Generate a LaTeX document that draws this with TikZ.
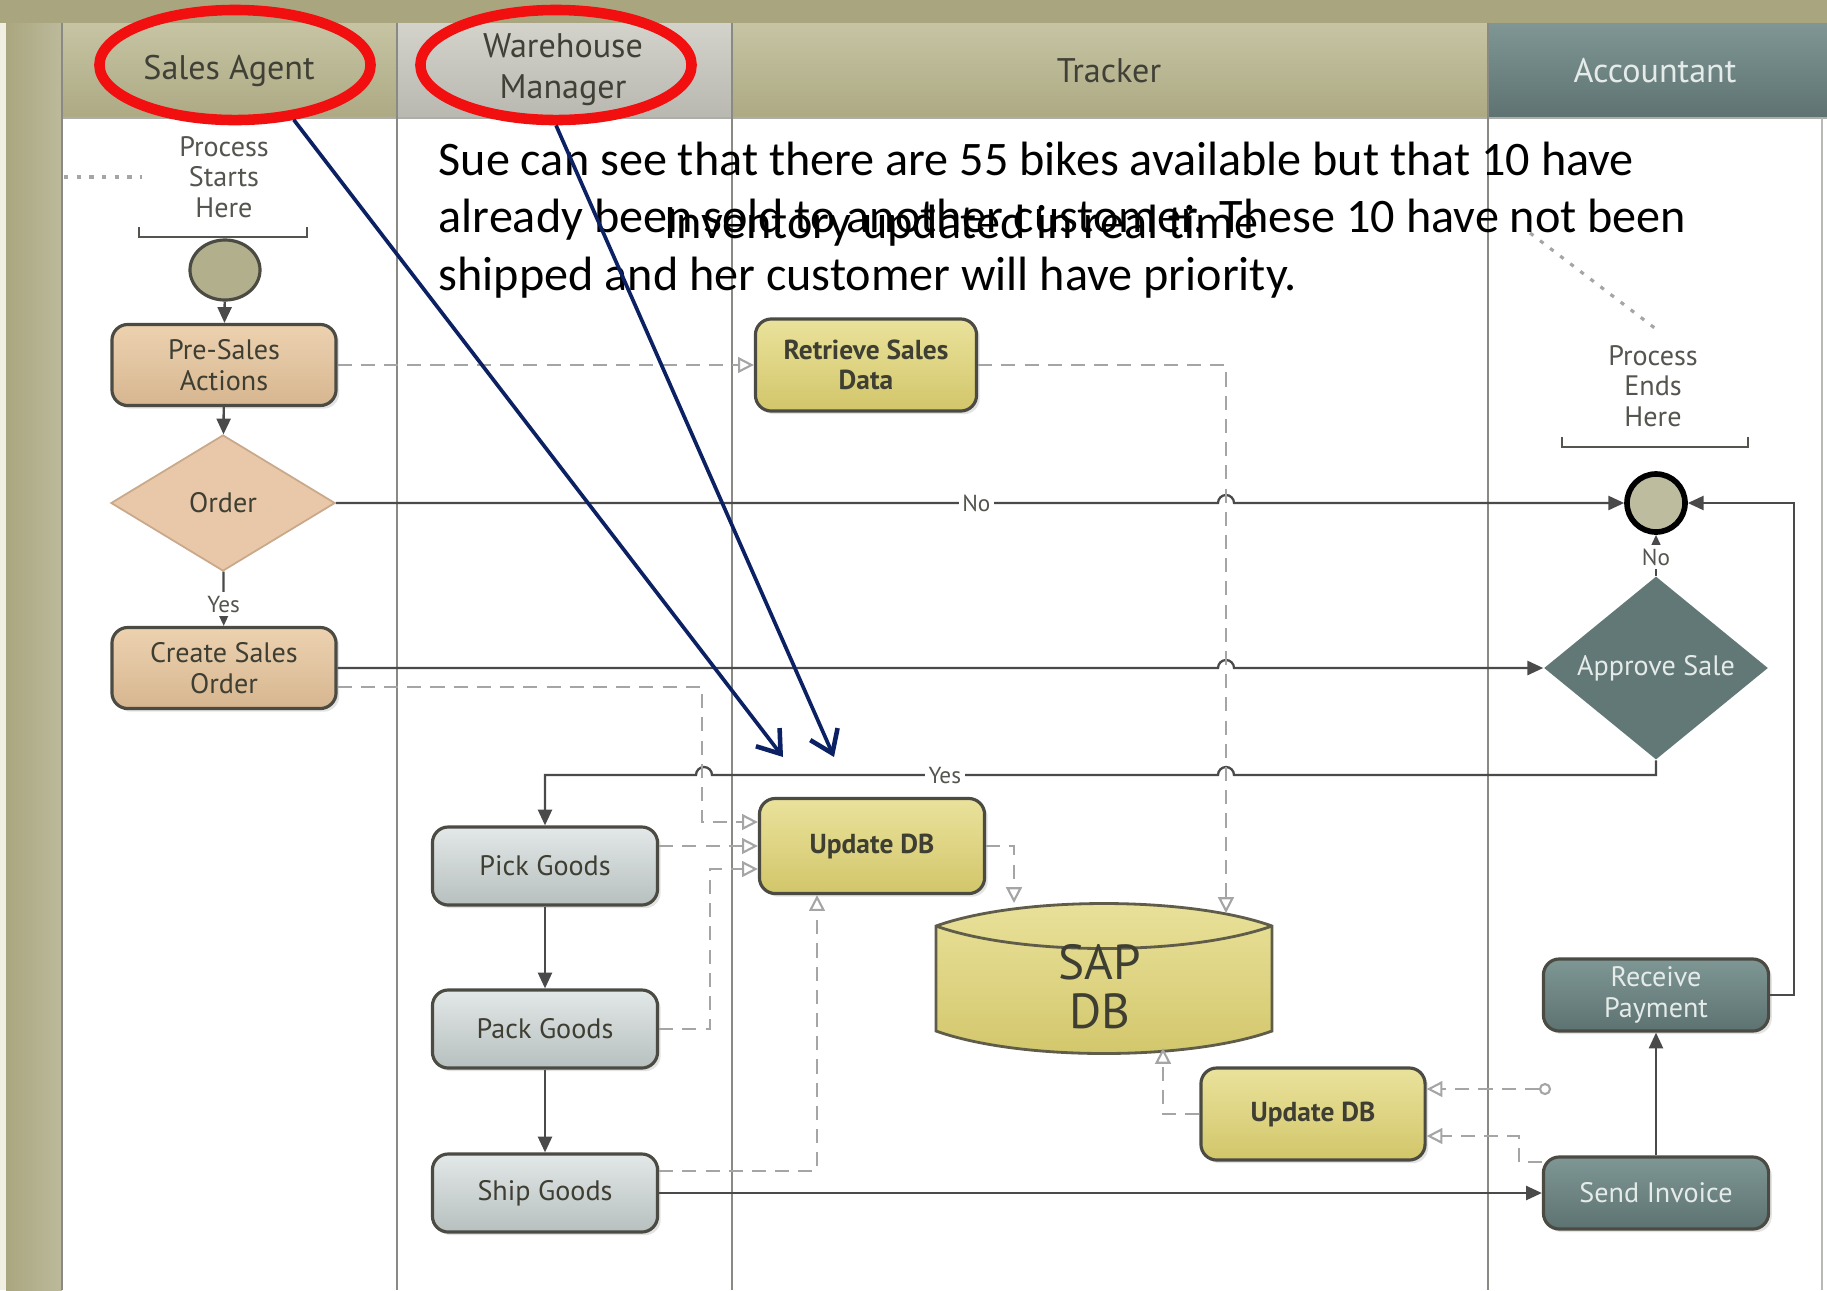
\documentclass[tikz,border=0pt]{standalone}
\usepackage{fontspec}
\setmainfont{PT Sans}
\newfontfamily\calfont{Carlito}
\usetikzlibrary{arrows.meta,shapes.geometric,calc,shadows}
\definecolor{bandol}{HTML}{A9A67F}
\definecolor{creamc}{HTML}{F1EEE2}
\definecolor{hdrT}{HTML}{C7C4A4}
\definecolor{hdrB}{HTML}{ACA983}
\definecolor{whT}{HTML}{D3D3CB}
\definecolor{whB}{HTML}{B8B8B0}
\definecolor{accT}{HTML}{7F9694}
\definecolor{accB}{HTML}{5E7371}
\definecolor{hdrtxt}{HTML}{404036}
\definecolor{sepc}{HTML}{8A8A84}
\definecolor{tanT}{HTML}{EDD2B0}
\definecolor{tanB}{HTML}{D6B690}
\definecolor{tanDi}{HTML}{E8C8A8}
\definecolor{tanDl}{HTML}{C9A98A}
\definecolor{yelT}{HTML}{EAE29C}
\definecolor{yelB}{HTML}{D2C66A}
\definecolor{gryT}{HTML}{E3E8E8}
\definecolor{gryB}{HTML}{B7BFBF}
\definecolor{slT}{HTML}{7E9694}
\definecolor{slB}{HTML}{5D7371}
\definecolor{boxln}{HTML}{4B4B44}
\definecolor{connc}{HTML}{4A4A4A}
\definecolor{dashc}{HTML}{A5A5A5}
\definecolor{navyc}{HTML}{0B2163}
\definecolor{redel}{HTML}{F20F0F}
\definecolor{ctext}{HTML}{3E3E32}
\definecolor{ltext}{HTML}{E4EBE9}
\definecolor{gtext}{HTML}{55554F}
\tikzset{
  boxbase/.style={draw=boxln, line width=0.9pt, rounded corners=4.5pt, align=center, inner sep=1pt,
    font=\fontsize{8}{8.7}\selectfont, text=ctext,
    drop shadow={shadow xshift=0.9pt, shadow yshift=-0.9pt, opacity=0.22}},
  tanbox/.style={boxbase, top color=tanT, bottom color=tanB, minimum width=2.24cm, minimum height=0.81cm},
  yelbox/.style={boxbase, top color=yelT, bottom color=yelB, font=\bfseries\fontsize{7.8}{8.7}\selectfont, text=ctext},
  grybox/.style={boxbase, top color=gryT, bottom color=gryB, minimum width=2.25cm, minimum height=0.78cm, text=ctext},
  slbox/.style={boxbase, top color=slT, bottom color=slB, minimum width=2.25cm, minimum height=0.72cm, text=ltext},
  sarrow/.style={draw=connc, line width=0.65pt, -{Triangle[length=4.5pt,width=4pt]}},
  darrow/.style={draw=dashc, line width=0.6pt, dash pattern=on 4pt off 2.6pt, -{Triangle[open,length=4.5pt,width=4.5pt]}},
  lbl/.style={fill=white, inner sep=1pt, font=\fontsize{6.6}{7}\selectfont, text=gtext},
  hdrtext/.style={font=\fontsize{9.7}{10.6}\selectfont, text=hdrtxt, align=center},
  ptext/.style={font=\fontsize{8}{8.7}\selectfont, text=gtext, align=center},
  bluearrow/.style={draw=navyc, line width=1.05pt, -{Straight Barb[length=6pt,width=8.5pt,line width=1.3pt]}},
  redring/.style={ellipse, draw=redel, line width=3pt, minimum width=2.71cm, minimum height=1.10cm, inner sep=0pt},
  notetext/.style={anchor=base west, inner sep=0pt, font=\calfont\fontsize{13.7}{16.5}\selectfont, text=black}
}
\begin{document}
\begin{tikzpicture}[x=0.01cm,y=-0.01cm]
\useasboundingbox (0,0) rectangle (1827,1290);
% background
\fill[white] (0,0) rectangle (1827,1290);
\fill[creamc] (0,0) rectangle (6,1290);
\shade[left color=bandol, right color=hdrB!80!white] (6,0) rectangle (62,1290);
\fill[bandol] (0,0) rectangle (1827,23);
% headers
\shade[top color=hdrT, bottom color=hdrB] (62,23) rectangle (397,118);
\shade[top color=whT, bottom color=whB] (397,23) rectangle (732,118);
\shade[top color=hdrT, bottom color=hdrB] (732,23) rectangle (1488,118);
\shade[top color=accT, bottom color=accB] (1488,23) rectangle (1827,118);
\draw[sepc!70!white, line width=0.5pt] (62,118) -- (1827,118);
% lane separators
\draw[sepc, line width=0.6pt] (62,23) -- (62,1290);
\draw[sepc, line width=0.6pt] (397,23) -- (397,1290);
\draw[sepc, line width=0.6pt] (732,23) -- (732,1290);
\draw[sepc, line width=0.6pt] (1488,23) -- (1488,1290);
\draw[sepc!60!white, line width=0.5pt] (1822,118) -- (1822,1290);
\node[hdrtext] (hSA) at (229,71) {Sales Agent};
\node[hdrtext] (hWM) at (563,70) {Warehouse\\[1pt]Manager};
\node[hdrtext] (hTR) at (1109,71) {Tracker};
\node[hdrtext, text=ltext] (hAC) at (1655,71) {Accountant};

% process starts / ends
\node[ptext] (pstart) at (224,177) {Process\\Starts\\Here};
\draw[gtext, line width=0.8pt] (139,227) -- (139,237) -- (307,237) -- (307,227);
\coordinate (dotL) at (64,177);
\coordinate (dotLe) at (142,177);
\draw[dashc, line width=0.9pt, dash pattern=on 1.2pt off 2.4pt] (dotL) -- (dotLe);
\node[ptext] (pend) at (1653,386) {Process\\Ends\\Here};
\draw[gtext, line width=0.8pt] (1562,437) -- (1562,447) -- (1748,447) -- (1748,437);
\coordinate (dotA) at (1530,233);
\coordinate (dotB) at (1656,329);
\draw[dashc, line width=0.9pt, dash pattern=on 1.2pt off 2.4pt] (dotA) -- (dotB);

% nodes
\node[ellipse, draw=boxln, line width=0.9pt, fill=bandol!90!white, minimum width=0.70cm, minimum height=0.60cm, inner sep=0pt] (start) at (225,270) {};
\node[tanbox] (presales) at (224,365) {Pre-Sales\\Actions};
\node[diamond, draw=tanDl, line width=0.5pt, fill=tanDi, minimum width=2.24cm, minimum height=1.36cm, inner sep=0pt,
      font=\fontsize{8}{8.7}\selectfont, text=ctext] (order) at (223,503) {Order};
\node[tanbox] (createso) at (224,668) {Create Sales\\Order};
\node[yelbox, minimum width=2.21cm, minimum height=0.92cm] (retrieve) at (866,365) {Retrieve Sales\\Data};
\node[yelbox, minimum width=2.25cm, minimum height=0.95cm] (update1) at (872,846) {Update DB};
\node[yelbox, minimum width=2.24cm, minimum height=0.92cm] (update2) at (1313,1114) {Update DB};
\node[grybox] (pick) at (545,866) {Pick Goods};
\node[grybox] (pack) at (545,1029) {Pack Goods};
\node[grybox] (ship) at (545,1193) {Ship Goods};
\node[circle, draw=black, line width=1.6pt, fill=bandol!75!white, minimum size=0.58cm, inner sep=0pt] (endc) at (1656,503) {};
\node[diamond, fill=slB!85!slT, minimum width=2.24cm, minimum height=1.37cm, inner sep=0pt,
      font=\fontsize{8}{8.7}\selectfont, text=ltext] (approve) at (1656,668) {Approve Sale};
\node[slbox] (receive) at (1656,995) {Receive\\Payment};
\node[slbox] (send) at (1656,1193) {Send Invoice};

% SAP DB
\shade[top color=yelT, bottom color=yelB, draw=boxln!85!yelB, line width=0.8pt]
  (936,926) .. controls (1020,896) and (1188,896) .. (1272,926) -- (1272,1031)
  .. controls (1188,1061) and (1020,1061) .. (936,1031) -- cycle;
\draw[boxln!85!yelB, line width=0.8pt] (936,926) .. controls (1020,956) and (1188,956) .. (1272,926);
\node[align=center, font=\fontsize{14}{14}\selectfont, text=ctext] (sap) at (1100,987) {SAP\\DB};
\coordinate (sapTR) at (1226,913);
\coordinate (sapTL) at (1014,903);
\coordinate (sapB) at (1163,1048);

% solid connectors
\draw[sarrow] (start) -- (presales);
\draw[sarrow] (presales) -- (order);
\draw[sarrow] (order) -- node[lbl, pos=0.6]{Yes} (createso);
\draw[sarrow] (order.east) -- node[lbl, pos=0.726]{No} (1218,503)
   arc[start angle=180, end angle=0, radius=0.08cm] -- (endc.west);
\draw[sarrow] (createso.east) -- (1218,668)
   arc[start angle=180, end angle=0, radius=0.08cm] -- (approve.west);
\draw[sarrow] (approve.south) -- (1656,775) -- (1234,775)
   arc[start angle=0, end angle=180, radius=0.08cm] -- node[lbl, pos=0.54]{Yes} (712,775)
   arc[start angle=0, end angle=180, radius=0.08cm] -- (545,775) -- (pick.north);
\draw[sarrow] (approve.north) -- node[lbl, pos=0.45]{No} (endc.south);
\draw[sarrow] (receive.east) -- (1794,995) -- (1794,503) -- (endc.east);
\draw[sarrow] (send) -- (receive);
\draw[sarrow] (pick) -- (pack);
\draw[sarrow] (pack) -- (ship);
\draw[sarrow] (ship.east) -- (send.west);

% dashed connectors
\draw[darrow] (presales.east) -- (retrieve.west);
\draw[darrow] (retrieve.east) -| (sapTR);
\draw[darrow] ($(createso.east)+(0,19)$) -| ($(update1.west)+(-56,-24)$) -- ($(update1.west)+(0,-24)$);
\draw[darrow] ($(pick.east)+(0,-20)$) -- (update1.west);
\draw[darrow] (pack.east) -| ($(update1.west)+(-48,23)$) -- ($(update1.west)+(0,23)$);
\draw[darrow] ($(ship.east)+(0,-22)$) -| ($(update1.south)+(-55,0)$);
\draw[darrow] (update1.east) -| (sapTL);
\draw[darrow] (update2.west) -| (sapB);
\node[circle, draw=dashc, line width=0.6pt, fill=white, minimum size=0.1cm, inner sep=0pt] (smallc) at (1545,1089) {};
\draw[darrow] (smallc) -- ($(update2.east)+(0,-25)$);
\draw[darrow] ($(send.west)+(0,-31)$) -| ($(update2.east)+(92,22)$) -- ($(update2.east)+(0,22)$);

% red rings
\node[redring] (ringSA) at (235,65) {};
\node[redring] (ringWM) at (556,65) {};

% overlay text
\node[notetext] (note1) at (438,175) {Sue can see that there are 55 bikes available but that 10 have};
\node[notetext] (note2) at (438,232) {already been sold to another customer. These 10 have not been};
\node[notetext] (note3) at (438,290) {shipped and her customer will have priority.};
\node[notetext] (note4) at (664,238) {Inventory updated in real time};

% blue arrows
\coordinate (tipA) at (783,757);
\coordinate (tipB) at (834,757);
\draw[bluearrow] (ringSA.-43) -- (tipA);
\draw[bluearrow] (ringWM.south) -- (tipB);
\end{tikzpicture}
\end{document}
